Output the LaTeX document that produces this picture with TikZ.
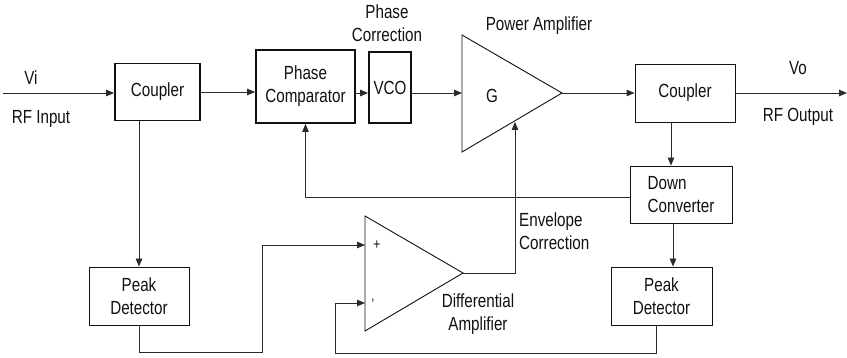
\documentclass[tikz,border=0pt]{standalone}
\usepackage{fontspec}
\setmainfont[FakeStretch=0.8]{Liberation Sans}
\usetikzlibrary{arrows.meta,calc,positioning}
\definecolor{LoopInk}{HTML}{111111}
\definecolor{LoopWire}{HTML}{2A2A2A}
\tikzset{
  every node/.style={font=\fontsize{19}{23}\selectfont, text=LoopInk},
  heavybox/.style={draw=LoopInk, line width=1.8pt, inner sep=0pt, align=center},
  lightbox/.style={draw=LoopInk, line width=0.9pt, inner sep=0pt, align=center},
  ampbody/.style={draw=LoopInk, line width=0.9pt},
  wire/.style={draw=LoopWire, line width=0.9pt},
  feed/.style={wire, -{Triangle[length=8pt,width=6.5pt]}},
  note/.style={inner sep=0pt, align=center},
  sign/.style={inner sep=0pt, font=\fontsize{15}{15}\selectfont},
}
\begin{document}
\begin{tikzpicture}[x=1pt,y=-1pt]
  \useasboundingbox (0,0) rectangle (847,358);
  % Blocks (pixel grid of the drawing, y downwards)
  \node[heavybox, minimum width=85, minimum height=57] (coupA) at (157.5,92) {Coupler};
  \node[heavybox, minimum width=99, minimum height=73] (phcomp) at (305.5,86.5) {Phase\\Comparator};
  \node[heavybox, minimum width=42, minimum height=71] (vco) at (390,87.5) {VCO};
  \node[lightbox, minimum width=100, minimum height=58] (coupB) at (685,93) {Coupler};
  \node[lightbox, minimum width=102, minimum height=57, align=left] (down) at (681,194.5) {Down\\Converter};
  \node[lightbox, minimum width=100, minimum height=58] (pdA) at (139,296) {Peak\\Detector};
  \node[lightbox, minimum width=101, minimum height=58] (pdB) at (661.5,296) {Peak\\Detector};
  % Amplifiers
  \draw[ampbody] (462,35) -- (562,93) -- (462,152) -- cycle;
  \draw[ampbody] (365,216) -- (463,273) -- (365,331) -- cycle;
  \coordinate (paIn) at (462,93);
  \coordinate (paOut) at (562,93);
  \coordinate (paCtl) at (515,122);
  \coordinate (dpIn) at (365,245);
  \coordinate (dmIn) at (365,303);
  \coordinate (daOut) at (463,273);
  \coordinate (vin) at (3,93);
  \coordinate (vout) at (847,93);
  \coordinate (pdAbend) at (262,352);
  \coordinate (pdBbend) at (335,353);
  \node[note] (gain) at (492,96) {G};
  \node[sign] (plus) at (377,245) {+};
  \node[sign] (minus) at (373,304) {'};
  % Labels
  \node[note] (vitxt) at (31,78) {Vi};
  \node[note] (rfin) at (41,119) {RF Input};
  \node[note] (phcorr) at (387,23.5) {Phase\\Correction};
  \node[note] (patxt) at (539,26) {Power Amplifier};
  \node[note] (votxt) at (798,68) {Vo};
  \node[note] (rfout) at (798,117) {RF Output};
  \node[note, anchor=west, align=left] (envcorr) at (519,231.5) {Envelope\\Correction};
  \node[note] (datxt) at (478,314.5) {Differential\\Amplifier};
  % Forward path
  \draw[feed] (vin) -- (vin -| coupA.west);
  \draw[feed] (coupA.east) -- (coupA.east -| phcomp.west);
  \draw[feed] (vin -| phcomp.east) -- (vin -| vco.west);
  \draw[feed] (vin -| vco.east) -- (paIn);
  \draw[feed] (paOut) -- (coupB.west);
  \draw[feed] (coupB.east) -- (vout);
  % Phase loop
  \draw[feed] ([xshift=-14pt]coupB.south) -- ([xshift=-14pt]coupB.south |- down.north);
  \draw[feed] ([yshift=-2.5pt]down.west) -| (phcomp.south);
  % Envelope loop
  \draw[feed] (coupA.south -| pdA.north) -- (pdA.north);
  \draw[feed] ([xshift=-8pt]down.south) -- ([xshift=-8pt]down.south |- pdB.north);
  \draw[feed] (pdA.south) |- (pdAbend) |- (dpIn);
  \draw[feed] ([xshift=-5.5pt]pdB.south) |- (pdBbend) |- (dmIn);
  \draw[feed] (daOut) -| (paCtl);
\end{tikzpicture}
\end{document}
